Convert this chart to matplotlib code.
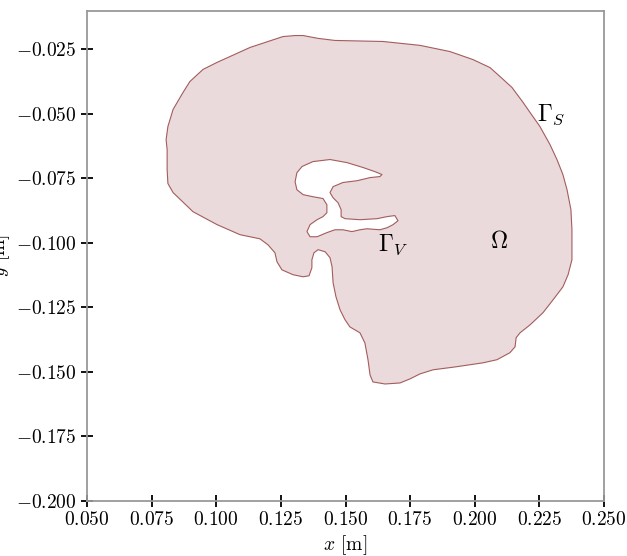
import numpy as np
import matplotlib
matplotlib.use("Agg")
import matplotlib.pyplot as plt
from matplotlib.path import Path
from matplotlib.patches import PathPatch
from matplotlib.ticker import FuncFormatter

plt.rcParams['mathtext.fontset'] = 'cm'
plt.rcParams['font.family'] = 'serif'
plt.rcParams['font.serif'] = ['cmr10']
plt.rcParams['axes.formatter.use_mathtext'] = True

# outer brain surface (Gamma_S), in metres
outer_x = [0.1336, 0.1394, 0.1459, 0.1645, 0.1788, 0.1904, 0.1993, 0.2059, 0.2098, 0.2144,
           0.2187, 0.2214, 0.2252, 0.2291, 0.2318, 0.2341, 0.2357, 0.2372, 0.2376, 0.2376,
           0.2361, 0.2341, 0.2303, 0.2264, 0.2214, 0.2175, 0.2160, 0.2156, 0.2136, 0.2086,
           0.2032, 0.1924, 0.1839, 0.1788, 0.1750, 0.1711, 0.1653, 0.1606, 0.1595, 0.1587,
           0.1575, 0.1556, 0.1517, 0.1498, 0.1479, 0.1463, 0.1452, 0.1448, 0.1440, 0.1421,
           0.1394, 0.1378, 0.1370, 0.1370, 0.1359, 0.1336, 0.1297, 0.1254, 0.1235, 0.1227,
           0.1200, 0.1169, 0.1092, 0.1003, 0.0910, 0.0833, 0.0813, 0.0810, 0.0810, 0.0806,
           0.0813, 0.0833, 0.0871, 0.0898, 0.0949, 0.1003, 0.1131, 0.1258, 0.1305]
outer_y = [-0.0198, -0.0209, -0.0217, -0.0221, -0.0236, -0.0260, -0.0291, -0.0322, -0.0357, -0.0399,
           -0.0457, -0.0496, -0.0550, -0.0620, -0.0678, -0.0736, -0.0795, -0.0872, -0.0950, -0.1066,
           -0.1124, -0.1171, -0.1221, -0.1271, -0.1318, -0.1349, -0.1368, -0.1403, -0.1426, -0.1453,
           -0.1465, -0.1481, -0.1492, -0.1508, -0.1527, -0.1543, -0.1547, -0.1539, -0.1512, -0.1453,
           -0.1388, -0.1349, -0.1326, -0.1298, -0.1260, -0.1209, -0.1155, -0.1093, -0.1058, -0.1035,
           -0.1027, -0.1039, -0.1066, -0.1097, -0.1128, -0.1132, -0.1124, -0.1105, -0.1074, -0.1039,
           -0.1008, -0.0985, -0.0969, -0.0930, -0.0880, -0.0806, -0.0771, -0.0717, -0.0640, -0.0601,
           -0.0550, -0.0484, -0.0419, -0.0376, -0.0329, -0.0302, -0.0244, -0.0202, -0.0198]

# ventricle surface (Gamma_V)
inner_x = [0.1312, 0.1332, 0.1374, 0.1440, 0.1506, 0.1568, 0.1614, 0.1641, 0.1633, 0.1595,
           0.1545, 0.1490, 0.1452, 0.1440, 0.1452, 0.1471, 0.1483, 0.1483, 0.1498, 0.1556,
           0.1622, 0.1661, 0.1691, 0.1703, 0.1684, 0.1661, 0.1633, 0.1583, 0.1556, 0.1525,
           0.1490, 0.1459, 0.1428, 0.1390, 0.1363, 0.1351, 0.1363, 0.1390, 0.1413, 0.1428,
           0.1428, 0.1413, 0.1374, 0.1336, 0.1312, 0.1305]
inner_y = [-0.0729, -0.0705, -0.0686, -0.0678, -0.0690, -0.0709, -0.0725, -0.0736, -0.0744, -0.0748,
           -0.0760, -0.0767, -0.0783, -0.0806, -0.0826, -0.0845, -0.0872, -0.0899, -0.0907, -0.0911,
           -0.0907, -0.0899, -0.0895, -0.0915, -0.0930, -0.0942, -0.0950, -0.0946, -0.0950, -0.0957,
           -0.0950, -0.0950, -0.0961, -0.0977, -0.0977, -0.0957, -0.0930, -0.0911, -0.0899, -0.0884,
           -0.0853, -0.0829, -0.0822, -0.0814, -0.0795, -0.0764]

xticks = [0.05, 0.075, 0.1, 0.125, 0.15, 0.175, 0.2, 0.225, 0.25]
yticks = [-0.2, -0.175, -0.15, -0.125, -0.1, -0.075, -0.05, -0.025]


def ring(xs, ys, ccw):
    pts = np.column_stack([xs, ys])
    area = 0.5 * np.sum(pts[:, 0] * np.roll(pts[:, 1], -1) - np.roll(pts[:, 0], -1) * pts[:, 1])
    if (area > 0) != ccw:
        pts = pts[::-1]
    pts = np.vstack([pts, pts[:1]])
    codes = [Path.MOVETO] + [Path.LINETO] * (len(pts) - 2) + [Path.CLOSEPOLY]
    return pts, codes


fig = plt.figure(figsize=(6.27, 5.56), dpi=100)
ax = fig.add_axes([87 / 627, 55 / 556, 517 / 627, 490 / 556])

p1, c1 = ring(outer_x, outer_y, True)
p2, c2 = ring(inner_x, inner_y, False)
path = Path(np.vstack([p1, p2]), c1 + c2)
ax.add_patch(PathPatch(path, facecolor='#eadadb', edgecolor='#a45c5c', lw=0.8, joinstyle='round'))

ax.text(0.2295, -0.0504, r'$\Gamma_S$', fontsize=17, ha='center', va='center')
ax.text(0.1684, -0.1008, r'$\Gamma_V$', fontsize=17, ha='center', va='center')
ax.text(0.2094, -0.0998, r'$\Omega$', fontsize=17, ha='center', va='center')

ax.set_xlim(0.05, 0.25)
ax.set_ylim(-0.2, -0.0103)
ax.set_xticks(xticks)
ax.set_yticks(yticks)
fmt = FuncFormatter(lambda v, pos: r'$%.3f$' % v)
ax.xaxis.set_major_formatter(fmt)
ax.yaxis.set_major_formatter(fmt)
ax.tick_params(direction='inout', length=8, width=1.3, color='black', labelsize=14)
for s in ax.spines.values():
    s.set_color('#999999')
    s.set_linewidth(1.3)

ax.set_xlabel(r'$x$ [m]', fontsize=14)
ax.xaxis.set_label_coords(0.5, -0.066)
ax.set_ylabel(r'$y$ [m]', fontsize=14)
ax.yaxis.set_label_coords(-0.145, 0.5)

fig.savefig('out.png', dpi=100)
